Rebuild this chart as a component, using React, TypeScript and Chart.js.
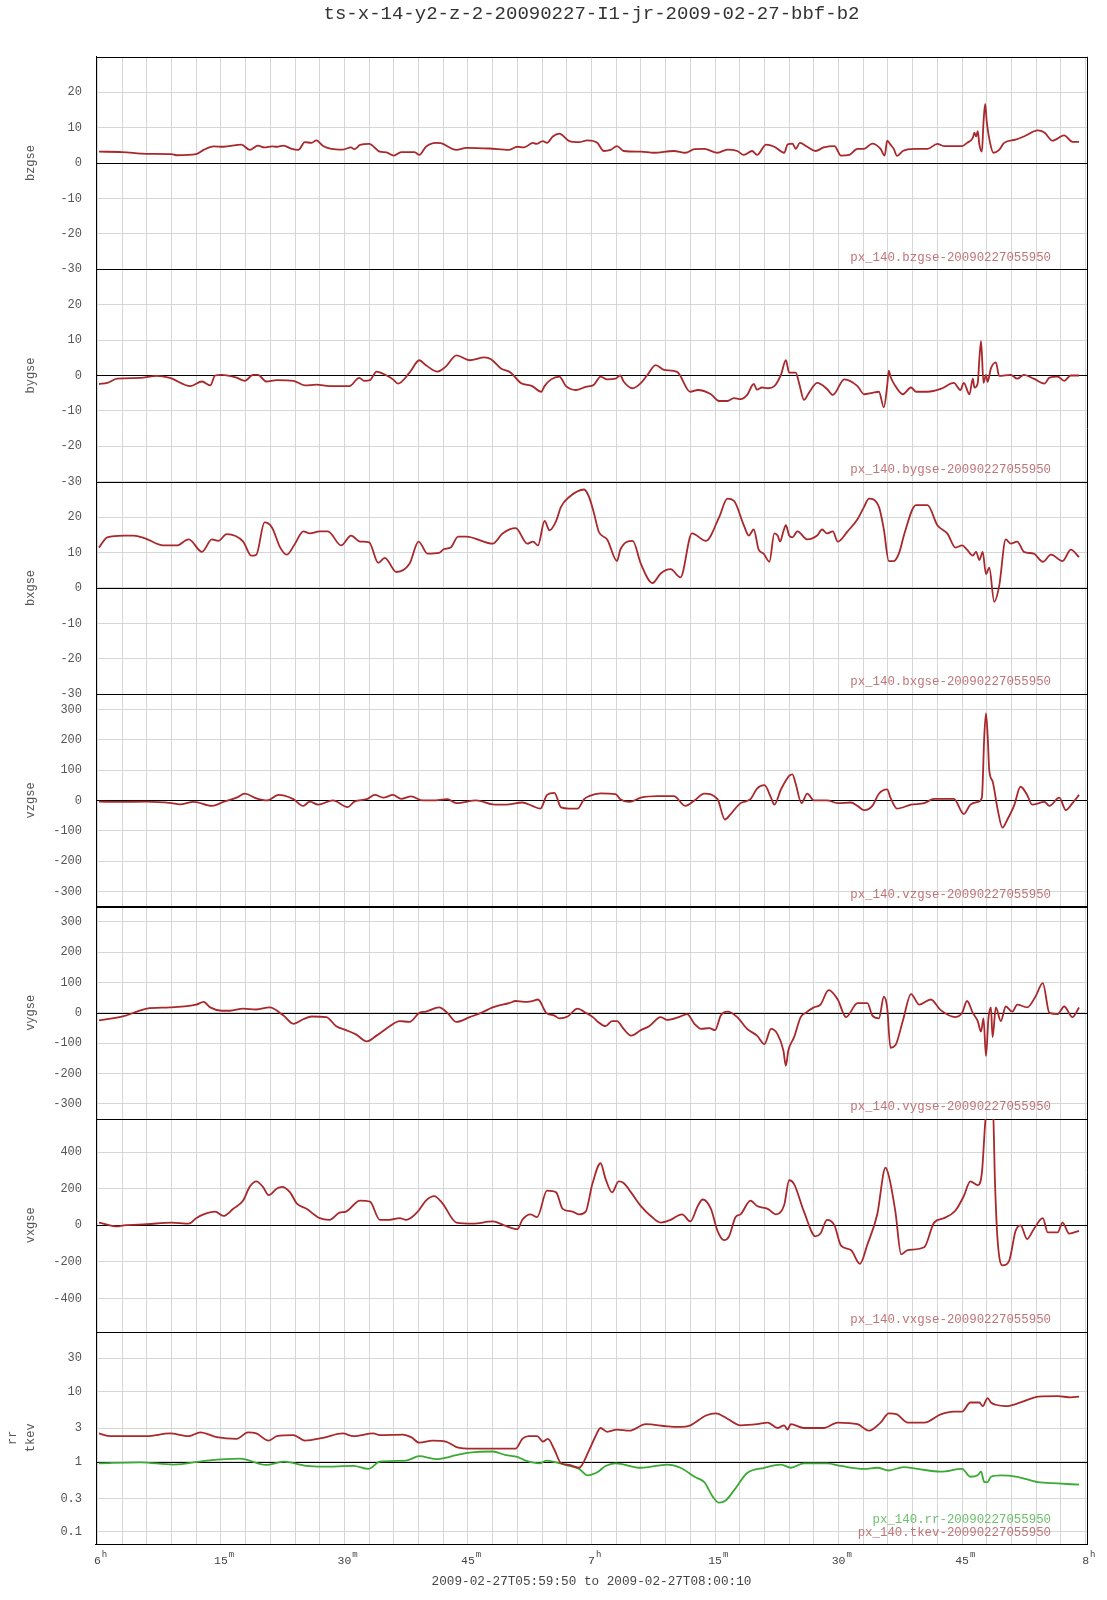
import React, { useEffect, useRef } from 'react';
import { Chart, registerables } from 'chart.js';

Chart.register(...registerables);

const FONT = '"Liberation Mono", "Courier New", monospace';
const TITLE = 'ts-x-14-y2-z-2-20090227-I1-jr-2009-02-27-bbf-b2';
const X_TITLE = '2009-02-27T05:59:50 to 2009-02-27T08:00:10';

// x axis in minutes after 06:00 (range 05:59:50 .. 08:00:10)
const X_MIN = -10 / 60;
const X_MAX = 120 + 10 / 60;
const xLabelMinutes = [0, 15, 30, 45, 60, 75, 90, 105, 120];
const xLabelMain = ['6', '15', '30', '45', '7', '15', '30', '45', '8'];
const xLabelSup = ['h', 'm', 'm', 'm', 'h', 'm', 'm', 'm', 'h'];

// [minute, value]
const bzgse: [number, number][] = [[0.2,3.2],[3,3.1],[6,2.6],[9,2.5],[9.6,2.2],[12,2.5],[12.9,3.7],[14.1,4.7],[15.3,4.6],[17.5,5.2],[18.5,3.7],[19.5,4.9],[20.3,4.4],[21.2,4.7],[21.8,4.6],[22.6,4.9],[23.6,4.0],[24.4,3.7],[25.2,5.9],[26,5.7],[26.6,6.4],[27.4,4.8],[28.4,4.0],[29.8,3.8],[30.8,4.4],[31.2,3.9],[31.9,5.1],[33,5.4],[34.3,3.2],[35.1,3.0],[36,2.1],[36.9,3.1],[38.5,3.1],[39.1,2.3],[39.9,4.6],[41.1,5.7],[41.7,5.6],[43.6,3.7],[44.8,4.3],[47.6,4.1],[50,3.7],[51,4.6],[51.8,4.4],[52.9,5.7],[53.3,5.4],[54.1,6.2],[54.6,5.7],[55.3,7.5],[56.1,8.3],[57.3,6.2],[58.5,5.9],[59.5,6.4],[60.7,5.7],[61.5,3.4],[62.3,3.7],[63.1,4.8],[63.9,3.4],[66,3.2],[67.6,2.9],[70,3.4],[71.4,2.9],[72.5,3.9],[73.7,4.0],[75.3,2.9],[76.5,3.8],[77.7,3.4],[78.5,2.3],[79.5,3.4],[80.1,2.3],[81.2,5.2],[82.2,4.6],[83.4,2.9],[83.8,5.2],[84.4,5.5],[84.8,4.0],[85.3,5.7],[86.2,4.6],[87.2,3.4],[88.2,4.4],[89.5,4.8],[90.3,2.1],[91.3,2.3],[92.3,4.0],[93.1,4.0],[94.1,5.5],[95.1,4.0],[95.6,2.1],[95.9,6.3],[96.3,5.2],[96.7,4.0],[97.1,2.0],[97.8,3.4],[99.2,4.0],[100.8,4.0],[102,5.4],[102.8,4.8],[105,4.8],[105.6,5.7],[106.3,7.1],[106.5,8.6],[106.7,7.5],[106.9,9.0],[107.1,5.2],[107.4,3.2],[107.6,11.5],[107.8,16.7],[108,11.5],[108.4,5.7],[108.8,2.9],[109.5,3.7],[110.1,5.7],[111.5,6.6],[112.5,7.5],[114.2,9.2],[115,8.6],[116,6.3],[117.4,7.8],[118.4,6.0],[119.2,6.0]];

const bygse: [number, number][] = [[0.2,-2.4],[1.2,-2.1],[2.4,-0.9],[5.2,-0.7],[7.2,-0.1],[8.8,-0.7],[11.3,-3.0],[12.7,-1.7],[13.7,-2.8],[14.3,0],[15.1,0.2],[16.9,-0.6],[17.9,-1.5],[18.9,0.2],[19.5,0.2],[20.5,-1.7],[21.8,-1.3],[23.8,-1.5],[25.2,-2.8],[26.6,-2.6],[28.2,-3.0],[30.6,-3.0],[31.8,-0.7],[32.4,-1.5],[33.1,-1.3],[33.9,1.1],[34.7,0.5],[35.9,-1.1],[36.5,-2.3],[37.9,0.8],[39.1,4.3],[39.9,2.9],[41.3,1.1],[42.3,2.5],[43.6,5.7],[45.2,4.3],[47,5.1],[47.8,4.6],[49,2.0],[50.2,0.8],[51.4,-2.1],[52.8,-3.0],[53.9,-4.6],[54.3,-3.0],[55.1,-1.1],[56.1,-0.3],[56.9,-3.0],[58.1,-4.1],[59.3,-3.2],[60.3,-2.6],[61.1,-0.3],[61.9,-1.1],[62.9,-0.9],[63.5,0],[63.9,-1.7],[65,-3.6],[66,-2.1],[66.8,0.2],[67.8,2.9],[68.8,1.6],[70.4,1.0],[72,-4.6],[72.9,-4.1],[74.5,-5.3],[75.5,-7.2],[76.5,-7.2],[77.3,-6.4],[78.1,-6.7],[78.9,-5.5],[79.7,-2.4],[80.1,-4.0],[80.7,-3.4],[81.4,-3.6],[82.2,-3.0],[83,0.2],[83.6,4.3],[84,0.8],[84.8,0.8],[85.2,-2.1],[85.8,-6.9],[86.4,-4.9],[87.4,-2.1],[88.6,-3.8],[89.3,-5.5],[90.7,-1.1],[92.3,-3.0],[93.1,-5.3],[94.1,-4.9],[94.9,-4.6],[95.5,-9.0],[95.9,-3.0],[96.1,1.4],[96.3,-0.3],[96.9,-3.0],[97.8,-5.3],[98.8,-3.4],[99.4,-4.6],[100.8,-4.6],[102.4,-3.8],[104,-2.1],[104.8,-4.1],[105.2,-2.1],[105.9,-5.3],[106.3,-0.9],[106.5,-3.4],[106.9,-2.1],[107.1,4.8],[107.3,9.7],[107.6,-2.1],[107.9,0.2],[108.1,-1.8],[108.5,2.0],[109.1,3.7],[109.5,-0.1],[110.9,0.2],[111.7,-0.9],[112.5,0.2],[113.7,-0.9],[115,-2.3],[115.6,-0.6],[116.6,-0.3],[117.4,-1.5],[118.2,0],[119.2,0]];

const bxgse: [number, number][] = [[0.2,11.4],[1.2,14.3],[3.2,14.8],[4.4,14.8],[5.8,14.0],[8,12.0],[9.6,12.0],[11.1,13.7],[12.7,10.2],[13.9,13.7],[14.7,13.3],[15.7,15.2],[17.7,13.1],[18.7,9.1],[19.3,9.4],[20.3,18.5],[21.2,17.1],[22.2,11.4],[23,9.4],[24,12.5],[25,16.0],[25.8,15.4],[27,16.0],[28,16.0],[29.6,12.0],[30.8,14.8],[31.9,13.1],[33,12.9],[34.1,7.1],[34.9,8.5],[36.3,4.5],[37.9,6.8],[39,13.1],[40.1,9.7],[41.5,9.9],[42.1,11.0],[42.9,11.4],[43.8,14.5],[44.8,14.5],[48,12.5],[49.2,15.4],[50.8,16.9],[52.2,12.5],[52.9,13.1],[53.5,12.0],[54.3,18.9],[54.9,16.3],[55.7,18.9],[56.3,22.9],[57.3,25.7],[59.1,27.8],[59.7,25.7],[60.3,21.1],[60.9,15.8],[61.9,13.7],[63.1,7.6],[63.5,10.8],[65,13.3],[66,6.8],[67.4,1.4],[68.4,4.1],[69.6,5.3],[70.8,3.0],[72.2,15.4],[73.9,13.3],[75.5,20.0],[76.5,25.2],[77.3,24.6],[78.5,17.7],[79.1,14.8],[79.7,16.5],[80.3,10.8],[80.9,9.7],[81.6,7.4],[82.2,15.4],[82.6,14.8],[82.9,13.1],[83.3,16.0],[83.6,17.7],[84,14.8],[84.4,14.3],[85,16.0],[86.2,13.7],[87.4,14.8],[88,16.5],[88.6,15.4],[89.3,16.0],[89.9,13.1],[91.1,16.0],[92.3,19.4],[93.1,22.9],[93.7,25.2],[94.9,22.9],[95.5,16.5],[96.1,7.6],[96.7,7.6],[97.4,10.2],[98,15.4],[99.4,23.4],[100.8,23.4],[102,17.7],[103.2,15.4],[104.2,11.4],[105,12.0],[105.6,10.8],[106.3,9.1],[106.7,10.2],[107.1,7.9],[107.5,10.2],[107.9,3.9],[108.3,5.7],[108.9,-3.9],[109.5,0.5],[110.3,13.7],[110.9,12.5],[111.7,13.1],[112.5,10.2],[113.7,9.7],[114.8,7.4],[115.8,9.4],[117.2,7.6],[118.2,10.8],[119.2,8.7]];

const vzgse: [number, number][] = [[0.2,-4],[3,-5],[6,-4],[9,-9],[10,-13],[11.7,-5],[13.9,-18],[15.3,-5],[16.9,9],[17.9,22],[19.3,7],[20.6,0],[22,18],[23.8,4],[25,-18],[25.8,-4],[26.8,-14],[28.6,0],[30.4,-22],[31.2,-4],[32.7,4],[33.7,18],[34.7,9],[35.9,18],[36.9,5],[38.1,13],[39.5,0],[40.7,0],[42.5,4],[43.6,-9],[46,0],[48,-13],[49.6,-14],[51.6,-7],[52.8,-18],[53.8,-27],[54.6,18],[55.5,25],[56.3,-23],[57.3,-27],[58.3,-27],[59.1,4],[59.7,14],[61.1,23],[62.9,21],[63.5,4],[64.6,-5],[66,9],[68,14],[70,14],[71.4,-18],[72.5,0],[73.7,22],[75.3,4],[76.2,-63],[76.9,-45],[78.1,-9],[79.3,4],[80.1,39],[81,50],[81.8,9],[82.2,-14],[83,36],[84,81],[84.4,86],[84.8,54],[85.5,-9],[86.2,22],[87,0],[88.6,0],[89.9,-9],[91.5,-7],[92.3,-18],[93.1,-32],[94.1,-18],[94.9,22],[95.9,36],[96.3,9],[97.1,-27],[98.8,-14],[100.4,-9],[101.6,5],[104,5],[105.2,-45],[106,-14],[106.9,-5],[107.4,9],[107.7,215],[107.9,287],[108.1,215],[108.3,99],[108.7,63],[109.3,-27],[109.9,-90],[110.5,-63],[111.3,-18],[112.1,45],[112.9,18],[113.5,-14],[115,-5],[115.6,-18],[116.8,9],[117.6,-32],[118.4,-9],[119.2,18]];

const vygse: [number, number][] = [[0.2,-25],[3.2,-11],[4.8,4],[6,14],[8.8,18],[12,27],[12.9,36],[13.7,18],[15.1,7],[16.1,7],[17.7,14],[19.3,11],[20.9,18],[22.6,-9],[23.8,-36],[25,-21],[26,-12],[27.8,-14],[29,-44],[30.2,-57],[31.4,-71],[32.7,-94],[33.9,-75],[35.5,-44],[36.7,-27],[37.9,-30],[39.1,0],[39.9,4],[41.5,18],[42.5,0],[43.6,-30],[45.2,-14],[46.6,0],[48,18],[49.2,27],[50,32],[50.8,39],[51.8,36],[52.8,39],[53.5,44],[54.5,0],[55.5,-9],[56.1,-18],[57.1,-12],[58.3,14],[59.3,0],[60.2,-15],[60.8,-30],[61.7,-44],[62.5,-27],[63.1,-27],[63.9,-53],[64.8,-75],[66,-57],[67,-44],[68.4,-14],[69.2,-23],[70.6,-14],[71.6,-4],[72.5,-36],[73.3,-53],[74.3,-50],[75,-57],[75.7,-9],[76.5,4],[77.7,-14],[78.9,-53],[80.1,-75],[81,-103],[81.8,-53],[82.6,-71],[83.3,-124],[83.6,-174],[83.9,-124],[84.6,-80],[85.4,-14],[86,0],[87,18],[87.8,27],[88.8,75],[89.9,44],[90.9,-14],[92.3,32],[93.5,32],[94.1,-9],[94.9,-18],[95.5,53],[95.9,18],[96.3,-115],[96.9,-107],[97.8,-27],[98.8,62],[99.8,27],[101.2,44],[102.4,9],[104.2,-14],[105,0],[105.6,39],[106.3,0],[106.9,-27],[107.3,-62],[107.6,-18],[107.9,-142],[108.2,-18],[108.5,18],[108.7,-80],[109.1,18],[109.7,-27],[110.3,21],[111.1,4],[111.7,27],[112.9,18],[113.9,53],[114.8,98],[115.6,0],[116.6,-4],[117.4,21],[118.4,-14],[119.2,18]];

const vxgse: [number, number][] = [[0.2,15],[2.4,-6],[3.2,0],[6,6],[9,15],[11.1,9],[12,39],[12.9,60],[14.3,75],[15.3,51],[16.5,90],[17.7,135],[18.5,210],[19.3,240],[20.1,210],[20.8,165],[21.8,201],[22.4,210],[23.4,180],[24.2,120],[25.4,90],[27,39],[28.2,30],[29.4,69],[30.2,75],[31.9,135],[33.1,129],[34.3,30],[35.5,30],[36.7,39],[37.5,30],[38.9,75],[39.9,135],[40.9,159],[41.9,120],[43.6,15],[45.6,9],[48,21],[49.4,0],[51,-21],[51.6,30],[52.6,60],[53.4,45],[54.6,189],[55.7,180],[56.5,90],[57.7,75],[58.5,60],[59.3,75],[60.1,225],[61.1,339],[61.7,255],[62.5,180],[63.3,240],[63.9,231],[64.8,180],[66,105],[67.2,51],[68.4,15],[69.6,30],[71,60],[72,21],[72.9,105],[73.5,141],[74.5,90],[75.3,-30],[76.1,-81],[76.7,-60],[77.5,45],[78.1,60],[79.3,135],[80.1,105],[81.4,90],[82.4,60],[83.4,111],[84,246],[84.6,225],[85.8,75],[87.2,-60],[87.8,-45],[88.6,30],[89.5,0],[90.3,-111],[91.5,-135],[92.6,-210],[93.5,-105],[94.7,60],[95.7,315],[96.1,270],[96.9,75],[97.6,-159],[98.4,-135],[100.4,-120],[101.6,15],[102.8,39],[104.2,81],[105.2,159],[106,240],[106.9,219],[107.4,285],[107.8,555],[108.1,700],[108.7,700],[109,225],[109.3,-75],[109.9,-219],[110.7,-195],[111.5,-30],[112.1,0],[112.9,-75],[113.7,-21],[114.8,39],[115.4,-39],[116.6,-39],[117.2,15],[118,-45],[119.2,-30]];

const rr: [number, number][] = [[0.2,0.95],[5.2,0.98],[9.2,0.91],[13.3,1.04],[17.3,1.11],[20.5,0.90],[22.6,1.0],[25.4,0.87],[27.4,0.85],[31.1,0.87],[32.9,0.79],[34.3,1.0],[37.5,1.04],[39.1,1.20],[41.1,1.09],[43.6,1.24],[45.2,1.35],[48,1.40],[49.6,1.24],[51,1.17],[52,1.04],[53.7,0.95],[54.5,1.04],[55.7,0.98],[57.3,0.87],[58.5,0.79],[59.5,0.64],[60.1,0.66],[60.8,0.72],[61.7,0.87],[62.9,0.95],[66,0.82],[69.2,0.91],[70.8,0.82],[72.5,0.61],[73.7,0.51],[74.7,0.32],[75.5,0.26],[76.3,0.28],[77.3,0.39],[78.9,0.69],[81,0.82],[83,0.91],[84.2,0.82],[85.8,0.95],[88.6,0.95],[90.3,0.87],[93.1,0.79],[94.7,0.82],[96.1,0.75],[97.9,0.84],[99.6,0.79],[102.4,0.72],[105,0.79],[106,0.61],[106.9,0.64],[107.3,0.72],[107.7,0.51],[108.1,0.51],[108.5,0.61],[109.7,0.64],[111.7,0.61],[114.2,0.51],[116.6,0.49],[119.2,0.47]];

const tkev: [number, number][] = [[0.2,2.53],[1.6,2.32],[6,2.32],[8.8,2.53],[11.1,2.32],[12.5,2.62],[14.5,2.24],[16.9,2.12],[18.3,2.62],[19.3,2.53],[20.8,2.0],[21.8,2.32],[23.8,2.40],[25.2,2.0],[27.4,2.19],[29.8,2.53],[31.1,2.32],[33.5,2.53],[34.3,2.40],[37.1,2.44],[38.1,2.24],[39.1,1.87],[40.7,2.0],[42.3,1.94],[43.6,1.62],[45.6,1.54],[48.8,1.54],[50.8,1.54],[51.6,2.12],[52.4,2.32],[53.4,2.32],[54.1,1.94],[54.7,2.12],[55.5,1.48],[56.3,0.95],[57.3,0.90],[58.5,0.82],[59.7,1.45],[60.4,2.2],[61.1,3.03],[61.9,2.67],[63.1,2.87],[64.6,2.77],[66.6,3.43],[69.2,3.20],[70.6,3.14],[72,3.31],[73.9,4.57],[75.1,4.91],[76.5,4.10],[78.1,3.31],[80.1,3.43],[81.4,3.62],[82.6,3.03],[83.4,3.31],[83.8,2.87],[84.2,3.43],[85.8,3.03],[88.2,3.03],[89.9,3.62],[92.3,3.43],[93.7,2.77],[95.1,3.62],[96.1,4.91],[97.1,4.73],[98.4,3.62],[100.4,3.62],[102.4,4.73],[104,5.18],[105,5.18],[106,7.0],[107.1,7.0],[107.5,6.2],[108.1,8.1],[108.5,7.0],[109.1,6.5],[110.3,6.2],[112.1,7.0],[114.3,8.5],[116.6,8.6],[118.2,8.3],[119.2,8.5]];

// panels, top to bottom
const panelIds = ['p1', 'p2', 'p3', 'p4', 'p5', 'p6', 'p7'];
const panelTitles: (string | string[])[] = ['bzgse', 'bygse', 'bxgse', 'vzgse', 'vygse', 'vxgse', ['rr', 'tkev']];
const panelMin = [-30, -30, -30, -350, -350, -580, 0.067];
const panelMax = [30, 30, 30, 350, 350, 580, 72];
const panelTicks = [
  [-30, -20, -10, 0, 10, 20],
  [-30, -20, -10, 0, 10, 20],
  [-30, -20, -10, 0, 10, 20],
  [-300, -200, -100, 0, 100, 200, 300],
  [-300, -200, -100, 0, 100, 200, 300],
  [-400, -200, 0, 200, 400],
  [0.1, 0.3, 1, 3, 10, 30],
];
const panelRefLine = [0, 0, 0, 0, 0, 0, 1];
const panelLabels = [
  'px_140.bzgse-20090227055950',
  'px_140.bygse-20090227055950',
  'px_140.bxgse-20090227055950',
  'px_140.vzgse-20090227055950',
  'px_140.vygse-20090227055950',
  'px_140.vxgse-20090227055950',
];
const rrLabel = 'px_140.rr-20090227055950';
const tkevLabel = 'px_140.tkev-20090227055950';

const RED = '#a8282c';
const GREEN = '#3aaa35';
const LABEL_RED = '#c07478';
const LABEL_GREEN = '#6cbf6c';
const GRID = '#d6d6d6';

const series = [
  { data: bzgse, axis: 'p1', color: RED },
  { data: bygse, axis: 'p2', color: RED },
  { data: bxgse, axis: 'p3', color: RED },
  { data: vzgse, axis: 'p4', color: RED },
  { data: vygse, axis: 'p5', color: RED },
  { data: vxgse, axis: 'p6', color: RED },
  { data: tkev, axis: 'p7', color: RED },
  { data: rr, axis: 'p7', color: GREEN },
];

const panelPlugin = {
  id: 'panelDecor',
  beforeDatasetsDraw(chart: any) {
    const { ctx, chartArea } = chart;
    ctx.save();
    ctx.strokeStyle = '#000';
    const hline = (y: number, w = 1) => {
      ctx.lineWidth = w;
      ctx.beginPath();
      ctx.moveTo(chartArea.left, y);
      ctx.lineTo(chartArea.right, y);
      ctx.stroke();
    };
    panelIds.forEach((id, i) => {
      const s = chart.scales[id];
      hline(Math.round(s.getPixelForValue(panelRefLine[i])) + 0.5);
      hline(Math.round(s.top) + 0.5);
      if (i === 3) hline(Math.round(s.bottom), 2);
      else hline(Math.round(s.bottom) + 0.5);
    });
    ctx.lineWidth = 1;
    ctx.beginPath();
    ctx.moveTo(Math.round(chartArea.right) + 0.5, chartArea.top);
    ctx.lineTo(Math.round(chartArea.right) + 0.5, chartArea.bottom);
    ctx.stroke();
    ctx.restore();
  },
  afterDraw(chart: any) {
    const { ctx, chartArea } = chart;
    const xs = chart.scales.x;
    ctx.save();
    ctx.textBaseline = 'middle';
    // per-panel labels
    ctx.font = `12.4px ${FONT}`;
    ctx.textAlign = 'right';
    const labelRight = chartArea.right - 36;
    panelLabels.forEach((txt, i) => {
      const s = chart.scales[panelIds[i]];
      ctx.fillStyle = LABEL_RED;
      ctx.fillText(txt, labelRight, s.bottom - 12);
    });
    const last = chart.scales.p7;
    ctx.fillStyle = LABEL_GREEN;
    ctx.fillText(rrLabel, labelRight, last.bottom - 24);
    ctx.fillStyle = LABEL_RED;
    ctx.fillText(tkevLabel, labelRight, last.bottom - 11);
    // x tick labels with superscripts
    ctx.fillStyle = '#444';
    xLabelMinutes.forEach((m, i) => {
      const px = xs.getPixelForValue(m);
      ctx.font = `11.5px ${FONT}`;
      ctx.textAlign = 'center';
      const w = ctx.measureText(xLabelMain[i]).width;
      ctx.fillText(xLabelMain[i], px, chartArea.bottom + 17);
      ctx.font = `9px ${FONT}`;
      ctx.textAlign = 'left';
      ctx.fillText(xLabelSup[i], px + w / 2 + 1, chartArea.bottom + 11);
    });
    // x axis title
    ctx.font = `12.7px ${FONT}`;
    ctx.textAlign = 'center';
    ctx.fillStyle = '#444';
    ctx.fillText(X_TITLE, (chartArea.left + chartArea.right) / 2, chartArea.bottom + 38);
    ctx.restore();
  },
};

function buildYScales() {
  const scales: any = {};
  panelIds.forEach((id, i) => {
    const isLog = i === 6;
    const ticks = panelTicks[i];
    scales[id] = {
      type: isLog ? 'logarithmic' : 'linear',
      position: 'left',
      stack: 'panels',
      stackWeight: 1,
      weight: 10 - i,
      min: panelMin[i],
      max: panelMax[i],
      afterBuildTicks: (s: any) => {
        s.ticks = ticks.map((v) => ({ value: v }));
      },
      afterFit: (s: any) => {
        s.width = 96;
      },
      ticks: {
        callback: (v: any) => String(v),
        font: { family: FONT, size: 12 },
        color: '#555',
        padding: 14,
        autoSkip: false,
      },
      grid: { color: GRID, drawTicks: false, lineWidth: 1 },
      border: { display: true, color: '#000', width: 1 },
      title: {
        display: true,
        text: panelTitles[i],
        font: { family: FONT, size: 12, lineHeight: isLog ? 1.5 : 1.2 },
        color: '#555',
        padding: { top: isLog ? 4 : 24, bottom: 0 },
      },
    };
  });
  return scales;
}

export default function App() {
  const ref = useRef<HTMLCanvasElement>(null);
  useEffect(() => {
    const canvas = ref.current;
    if (!canvas) return;
    const gridMinutes: number[] = [];
    for (let m = 0; m <= 120; m += 3) gridMinutes.push(m);
    const chart = new Chart(canvas, {
      type: 'line',
      data: {
        datasets: series.map((s) => ({
          data: s.data.map(([x, y]) => ({ x, y })),
          yAxisID: s.axis,
          xAxisID: 'x',
          borderColor: s.color,
          backgroundColor: s.color,
          borderWidth: 1.8,
          pointRadius: 0,
          fill: false,
          cubicInterpolationMode: 'monotone' as const,
        })),
      },
      options: {
        animation: false,
        responsive: true,
        maintainAspectRatio: false,
        layout: { padding: { left: 0, right: 20, top: 0, bottom: 0 } },
        plugins: {
          legend: { display: false },
          tooltip: { enabled: false },
          title: {
            display: true,
            fullSize: false,
            text: TITLE,
            font: { family: FONT, size: 19, weight: 'normal' as const },
            color: '#333',
            padding: { top: 3, bottom: 31 },
          },
        },
        scales: {
          x: {
            type: 'linear',
            position: 'bottom',
            min: X_MIN,
            max: X_MAX,
            afterBuildTicks: (s: any) => {
              s.ticks = gridMinutes.map((v) => ({ value: v }));
            },
            afterFit: (s: any) => {
              s.height = 56;
            },
            ticks: { display: false },
            grid: { color: GRID, drawTicks: false, lineWidth: 1 },
            border: { display: true, color: '#000', width: 1 },
          },
          ...buildYScales(),
        },
      },
      plugins: [panelPlugin],
    } as any);
    return () => chart.destroy();
  }, []);
  return (
    <div style={{ position: 'absolute', left: 0, top: 0, width: 1107, height: 1600, background: '#fff' }}>
      <canvas ref={ref} />
    </div>
  );
}
